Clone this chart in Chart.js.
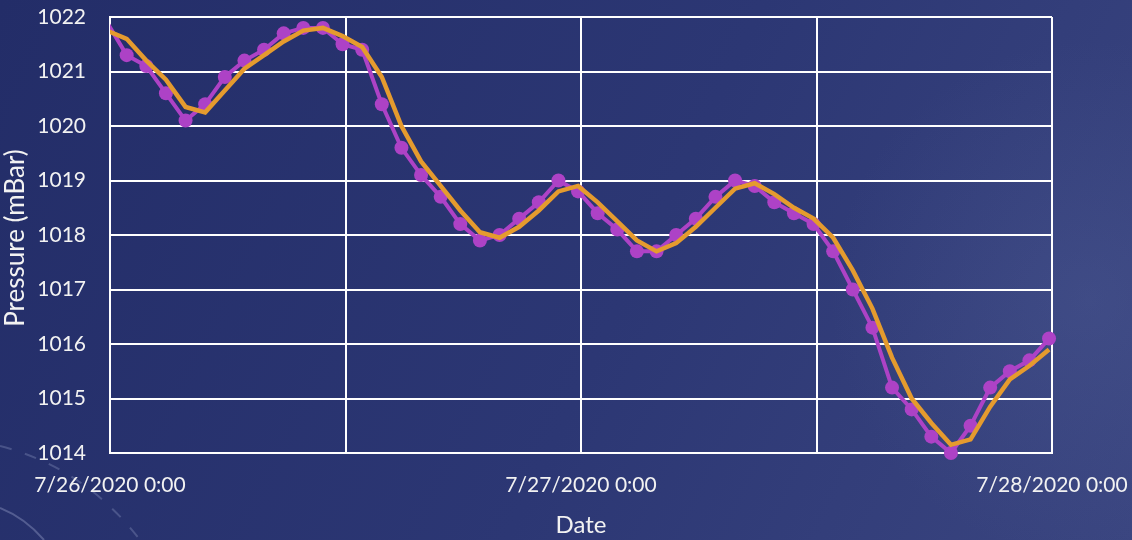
<!DOCTYPE html>
<html>
<head>
<meta charset="utf-8">
<title>Pressure</title>
<script src="https://cdn.jsdelivr.net/npm/chart.js@4/dist/chart.umd.min.js"></script>
<style>
  html, body { margin: 0; padding: 0; background: #2a3470; overflow: hidden; }
  #pressureChart { display: block; }
</style>
</head>
<body>
<canvas id="pressureChart" width="1132" height="540"></canvas>
<script>
// hours since 7/26/2020 0:00 (observations come in at :51 past the hour)
const obsHours = [
  -0.15, 0.85, 1.85, 2.85, 3.85, 4.85, 5.85, 6.85, 7.85, 8.85,
  9.85, 10.85, 11.85, 12.85, 13.85, 14.85, 15.85, 16.85, 17.85, 18.85,
  19.85, 20.85, 21.85, 22.85, 23.85, 24.85, 25.85, 26.85, 27.85, 28.85,
  29.85, 30.85, 31.85, 32.85, 33.85, 34.85, 35.85, 36.85, 37.85, 38.85,
  39.85, 40.85, 41.85, 42.85, 43.85, 44.85, 45.85, 46.85, 47.85
];

const pressure = [
  1021.9, 1021.3, 1021.1, 1020.6, 1020.1, 1020.4, 1020.9, 1021.2, 1021.4, 1021.7,
  1021.8, 1021.8, 1021.5, 1021.4, 1020.4, 1019.6, 1019.1, 1018.7, 1018.2, 1017.9,
  1018.0, 1018.3, 1018.6, 1019.0, 1018.8, 1018.4, 1018.1, 1017.7, 1017.7, 1018.0,
  1018.3, 1018.7, 1019.0, 1018.9, 1018.6, 1018.4, 1018.2, 1017.7, 1017.0, 1016.3,
  1015.2, 1014.8, 1014.3, 1014.0, 1014.5, 1015.2, 1015.5, 1015.7, 1016.1
];

// 2-period moving average trend
const pressureTrend = [
  1021.75, 1021.6, 1021.2, 1020.85, 1020.35, 1020.25, 1020.65, 1021.05, 1021.3, 1021.55,
  1021.75, 1021.8, 1021.65, 1021.45, 1020.9, 1020.0, 1019.35, 1018.9, 1018.45, 1018.05,
  1017.95, 1018.15, 1018.45, 1018.8, 1018.9, 1018.6, 1018.25, 1017.9, 1017.7, 1017.85,
  1018.15, 1018.5, 1018.85, 1018.95, 1018.75, 1018.5, 1018.3, 1017.95, 1017.35, 1016.65,
  1015.75, 1015.0, 1014.55, 1014.15, 1014.25, 1014.85, 1015.35, 1015.6, 1015.9
];

const dayLabels = ["7/26/2020 0:00", "7/27/2020 0:00", "7/28/2020 0:00"];
const yTitle = "Pressure (mBar)";

const palette = {
  purple: "#ad42c6",
  orange: "#e59b2e",
  white: "#ffffff",
  text: "#f2f2f2",
  none: "rgba(0, 0, 0, 0)"
};

const font = (size) => ({ family: "Lato", size: size, lineHeight: 1.2 });

const toPoints = (values) => values.map((v, i) => ({ x: obsHours[i], y: v }));

// dark slide background with a couple of faint arcs in the corner
const backdropPlugin = {
  id: "backdrop",
  beforeDraw(chart) {
    const { ctx, width, height } = chart;
    ctx.save();
    const grad = ctx.createLinearGradient(0, 0, width, height);
    grad.addColorStop(0, "#232d68");
    grad.addColorStop(0.55, "#2c3774");
    grad.addColorStop(1, "#3a4580");
    ctx.fillStyle = grad;
    ctx.fillRect(0, 0, width, height);

    const glow = ctx.createRadialGradient(1090, 300, 0, 1090, 300, 260);
    glow.addColorStop(0, "rgba(90, 105, 160, 0.25)");
    glow.addColorStop(1, "rgba(90, 105, 160, 0)");
    ctx.fillStyle = glow;
    ctx.fillRect(0, 0, width, height);

    ctx.strokeStyle = "rgba(200, 210, 240, 0.22)";
    ctx.lineWidth = 2;
    ctx.setLineDash([12, 14]);
    ctx.beginPath();
    ctx.moveTo(0, 446);
    ctx.quadraticCurveTo(85, 468, 140, 540);
    ctx.stroke();

    ctx.setLineDash([]);
    ctx.strokeStyle = "rgba(200, 210, 240, 0.28)";
    ctx.beginPath();
    ctx.moveTo(0, 508);
    ctx.quadraticCurveTo(25, 518, 44, 540);
    ctx.stroke();
    ctx.restore();
  }
};

// vertical axis title; the built-in one gets squeezed to the axis width
const yTitlePlugin = {
  id: "yTitle",
  afterDraw(chart) {
    const { ctx, chartArea } = chart;
    ctx.save();
    ctx.translate(16, (chartArea.top + chartArea.bottom) / 2 + 3);
    ctx.rotate(-Math.PI / 2);
    ctx.font = "26px Lato";
    ctx.fillStyle = palette.text;
    ctx.textAlign = "center";
    ctx.textBaseline = "middle";
    ctx.fillText(yTitle, 0, 0);
    ctx.restore();
  }
};

new Chart(document.getElementById("pressureChart"), {
  type: "line",
  data: {
    datasets: [
      {
        label: "Pressure",
        data: toPoints(pressure),
        borderColor: palette.purple,
        backgroundColor: palette.purple,
        borderWidth: 4,
        pointRadius: (c) => (c.raw && c.raw.x < 0 ? 0 : 7),
        pointBorderWidth: 0,
        pointBackgroundColor: palette.purple,
        tension: 0,
        order: 1,
        clip: { left: 0, top: false, right: false, bottom: false }
      },
      {
        label: "2 per. Mov. Avg. (Pressure)",
        data: toPoints(pressureTrend),
        borderColor: palette.orange,
        borderWidth: 4.5,
        pointRadius: 0,
        tension: 0,
        order: 0,
        clip: { left: 0, top: false, right: false, bottom: false }
      }
    ]
  },
  options: {
    responsive: false,
    animation: false,
    parsing: false,
    layout: { padding: { top: 17, right: 80, bottom: 0, left: 0 } },
    plugins: {
      legend: { display: false },
      tooltip: { enabled: false }
    },
    scales: {
      x: {
        type: "linear",
        min: 0,
        max: 48,
        afterFit: (scale) => { scale.height = 87; },
        afterBuildTicks: (scale) => {
          scale.ticks = [0, 12, 24, 36, 48].map((v) => ({ value: v }));
        },
        ticks: {
          color: palette.text,
          font: font(21),
          padding: 0,
          maxRotation: 0,
          autoSkip: false,
          callback: (value) => (value % 24 === 0 ? dayLabels[value / 24] : "")
        },
        grid: { color: palette.white, lineWidth: 2, drawTicks: true, tickLength: 20, tickColor: palette.none },
        border: { color: palette.white, width: 2 },
        title: {
          display: true,
          text: "Date",
          color: palette.text,
          font: font(24),
          padding: { top: 0, bottom: 0 }
        }
      },
      y: {
        min: 1014,
        max: 1022,
        afterFit: (scale) => { scale.width = 110; },
        ticks: {
          stepSize: 1,
          color: palette.text,
          font: font(21),
          padding: 0,
          callback: (value) => String(value)
        },
        grid: { color: palette.white, lineWidth: 2, drawTicks: true, tickLength: 24, tickColor: palette.none },
        border: { color: palette.white, width: 2 },
        title: { display: false }
      }
    }
  },
  plugins: [backdropPlugin, yTitlePlugin]
});
</script>
</body>
</html>
